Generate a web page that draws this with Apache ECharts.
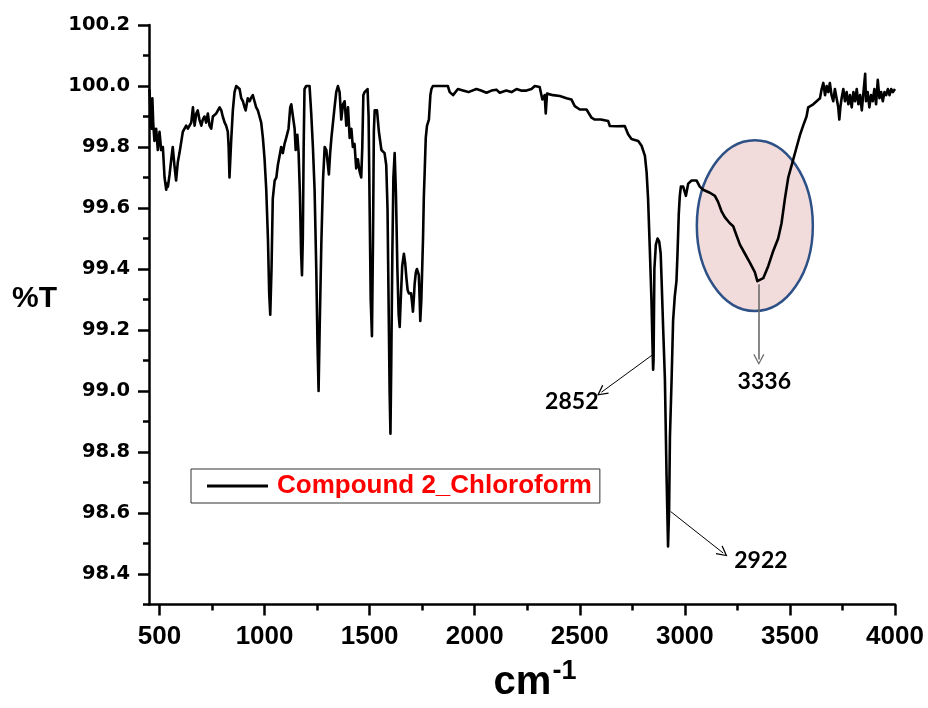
<!DOCTYPE html>
<html><head><meta charset="utf-8">
<script src="https://cdn.jsdelivr.net/npm/echarts@6/dist/echarts.min.js"></script>
<style>html,body{margin:0;padding:0;background:#fff}#c{width:928px;height:708px}</style>
</head><body><div id="c"></div>
<script>
// ---- data ----
const seriesName = 'Compound 2_Chloroform';
const wavenumber = [
452,458,462,466,470,476,484,492,500,508,516,524,532,536,540,548,556,563,571,579,587,595,611,627,635,643,651,659,667,675,682,690,699,706,714,722,730,738,746,754,762,770,778,786,794,801,810,817,825,829,833,837,841,849,857,865,873,881,889,897,905,910,915,920,929,935,944,952,960,968,976,984,992,1000,1008,1016,1022,1027,1033,1039,1048,1056,1063,1071,1079,1087,1095,1103,1114,1122,1127,1135,1143,1148,1156,1162,1168,1174,1178,1182,1186,1190,1198,1206,1214,1222,1230,1238,1246,1252,1257,1262,1270,1278,1286,1294,1300,1306,1312,1318,1333,1341,1349,1357,1365,1373,1381,1389,1397,1405,1413,1420,1428,1436,1444,1452,1460,1465,1470,1476,1482,1490,1495,1500,1505,1511,1516,1520,1524,1535,1544,1556,1571,1579,1585,1590,1595,1599,1603,1608,1613,1619,1625,1632,1638,1643,1648,1655,1663,1669,1675,1681,1687,1697,1702,1706,1710,1714,1720,1725,1730,1734,1738,1741,1746,1750,1754,1758,1762,1767,1773,1782,1789,1794,1801,1826,1850,1872,1881,1897,1920,1944,1970,2008,2030,2056,2080,2103,2119,2150,2175,2199,2220,2246,2270,2286,2309,2322,2333,2338,2344,2349,2373,2405,2437,2460,2476,2500,2532,2556,2571,2600,2635,2643,2675,2714,2730,2746,2778,2794,2810,2818,2825,2833,2841,2846,2849,2851,2855,2862,2870,2878,2885,2889,2897,2905,2913,2920,2925,2929,2937,2944,2952,2960,2965,2971,2976,2981,2992,3005,3016,3032,3056,3071,3087,3119,3143,3158,3174,3190,3214,3230,3246,3262,3286,3310,3333,3345,3354,3373,3397,3421,3444,3460,3476,3492,3508,3532,3548,3563,3579,3587,3611,3643,3651,3659,3667,3675,3683,3690,3698,3706,3714,3722,3730,3735,3740,3746,3754,3762,3770,3778,3786,3794,3802,3810,3818,3826,3834,3842,3850,3858,3862,3870,3878,3886,3894,3902,3910,3918,3926,3934,3942,3950,3958,3966,3974,3982,3990,4000
];
const transmittance = [
99.99,99.90,99.86,99.96,99.88,99.82,99.86,99.79,99.85,99.79,99.80,99.70,99.66,99.68,99.67,99.71,99.76,99.80,99.74,99.69,99.75,99.78,99.85,99.87,99.86,99.86,99.88,99.93,99.87,99.91,99.92,99.89,99.87,99.89,99.90,99.88,99.91,99.87,99.86,99.90,99.90,99.91,99.92,99.93,99.92,99.90,99.88,99.87,99.85,99.80,99.70,99.76,99.82,99.92,99.98,100.00,100.00,99.99,99.96,99.95,99.93,99.92,99.94,99.96,99.95,99.96,99.97,99.95,99.93,99.92,99.90,99.88,99.83,99.76,99.66,99.50,99.32,99.25,99.40,99.63,99.69,99.70,99.74,99.77,99.80,99.78,99.81,99.83,99.86,99.93,99.94,99.90,99.86,99.79,99.84,99.78,99.65,99.45,99.38,99.50,99.80,99.99,100.00,100.00,100.00,99.91,99.80,99.66,99.40,99.15,99.00,99.20,99.48,99.69,99.80,99.79,99.75,99.71,99.78,99.83,99.93,99.98,100.00,99.98,99.89,99.94,99.95,99.87,99.93,99.83,99.86,99.80,99.81,99.73,99.76,99.72,99.70,99.80,99.97,99.98,99.98,99.99,99.90,99.60,99.30,99.18,99.50,99.85,99.92,99.92,99.85,99.79,99.78,99.74,99.60,99.30,99.00,98.86,99.10,99.45,99.70,99.78,99.65,99.40,99.25,99.21,99.30,99.41,99.45,99.42,99.37,99.33,99.32,99.32,99.29,99.26,99.30,99.35,99.39,99.40,99.39,99.38,99.30,99.23,99.30,99.40,99.50,99.64,99.72,99.83,99.87,99.89,99.97,99.99,100.00,100.00,100.00,100.00,99.98,99.97,99.99,99.985,99.98,99.99,99.985,99.978,99.985,99.988,99.978,99.985,99.98,99.99,99.985,99.985,99.99,100.00,99.997,99.956,99.97,99.91,99.975,99.978,99.97,99.967,99.96,99.956,99.934,99.923,99.923,99.896,99.89,99.89,99.885,99.869,99.868,99.869,99.842,99.826,99.82,99.804,99.771,99.717,99.63,99.47,99.30,99.15,99.07,99.10,99.40,99.48,99.50,99.49,99.45,99.37,99.20,99.04,98.72,98.49,98.61,98.85,99.04,99.23,99.31,99.36,99.45,99.58,99.64,99.67,99.67,99.64,99.68,99.69,99.69,99.67,99.66,99.65,99.64,99.62,99.59,99.57,99.55,99.54,99.51,99.48,99.45,99.42,99.39,99.36,99.355,99.37,99.41,99.46,99.50,99.55,99.63,99.70,99.74,99.80,99.84,99.87,99.90,99.93,99.94,99.96,99.99,100.01,99.97,100.00,99.98,100.01,99.97,99.95,99.99,99.96,99.93,99.89,99.93,99.96,99.99,99.95,99.98,99.94,99.97,99.93,99.98,99.95,99.99,99.94,99.97,99.92,99.98,100.04,99.95,99.98,99.93,99.97,99.95,99.99,99.94,100.02,99.96,99.98,99.95,99.98,99.97,99.99,99.97,99.99,99.98,99.99
];
const xMajorTicks = [500,1000,1500,2000,2500,3000,3500,4000];
const xMinorTicks = [750,1250,1750,2250,2750,3250,3750];
const yMajorTicks = [98.4,98.6,98.8,99.0,99.2,99.4,99.6,99.8,100.0,100.2];
const yMinorTicks = [98.3,98.5,98.7,98.9,99.1,99.3,99.5,99.7,99.9,100.1];
// peak annotations: label, arrow start (on curve), arrow end, label anchor
const peakLabels = ['2852','2922','3336'];
const arrowFrom = [[2849,99.12],[2932,98.605],[3352,99.35]];
const arrowTo   = [[2603,98.996],[3182,98.469],[3352,99.103]];
const labelAt   = [[2462,98.965],[3362,98.445],[3378,99.03]];
// highlighted band: centre wavenumber, centre %T, half-width, half-height
const bandEllipse = [[3333,99.542,276,0.28]];

// ---- chart ----
const chart = echarts.init(document.getElementById('c'), null, {renderer:'canvas'});
const arrowHead = 'path://M5,0 L10,9.2 L9,9.8 L5,2.4 L1,9.8 L0,9.2 Z';
const axisCol = '#000';
const lineData = wavenumber.map((w,i)=>[w, transmittance[i]]);
const arrowStyles = [
  {color:'#000', width:1},
  {color:'#000', width:1},
  {color:'#6b6b6b', width:1.6}
];
const narrow = 'Liberation Sans Narrow, Liberation Sans, Arial, sans-serif';

chart.setOption({
  animation:false,
  backgroundColor:'#fff',
  grid:{left:149, right:33, top:25, bottom:99, containLabel:false},
  legend:{
    data:[seriesName], left:191, top:469,
    borderColor:'#333', borderWidth:1, padding:[4,8,4,16],
    icon:'rect', itemWidth:61, itemHeight:3,
    itemStyle:{color:'#000'},
    textStyle:{color:'#ff0000', fontWeight:'bold', fontSize:26, fontFamily:'Liberation Sans, Arial, sans-serif', padding:[0,0,0,4]}
  },
  xAxis:[{
    type:'value', min:450, max:4000,
    name:'{a|cm}{b|-1}', nameLocation:'middle', nameGap:54,
    nameTextStyle:{padding:[0,0,0,26], rich:{
      a:{fontSize:40, fontWeight:'bold', fontFamily:narrow, color:'#000'},
      b:{fontSize:27, fontWeight:'bold', fontFamily:narrow, color:'#000', padding:[0,0,22,1]}
    }},
    axisLine:{show:true, onZero:false, lineStyle:{color:axisCol, width:2.5}},
    axisTick:{show:true, customValues:xMajorTicks, length:11, lineStyle:{color:axisCol, width:2.5}},
    axisLabel:{customValues:xMajorTicks, formatter:v=>String(Math.round(v)), margin:19, color:'#000', fontWeight:'bold', fontSize:26, fontFamily:narrow},
    splitLine:{show:false}
  },{
    type:'value', min:450, max:4000, position:'bottom', gridIndex:0,
    axisLine:{show:false},
    axisTick:{show:true, customValues:xMinorTicks, length:6, lineStyle:{color:axisCol, width:2.5}},
    axisLabel:{show:false}, splitLine:{show:false}
  }],
  yAxis:[{
    type:'value', min:98.3, max:100.2,
    axisLine:{show:true, onZero:false, lineStyle:{color:axisCol, width:2.5}},
    axisTick:{show:true, customValues:yMajorTicks, length:11, lineStyle:{color:axisCol, width:2.5}},
    axisLabel:{customValues:yMajorTicks, formatter:v=>v.toFixed(1), margin:19, color:'#000', fontWeight:'bold', fontSize:19.5, fontFamily:'DejaVu Sans, sans-serif'},
    splitLine:{show:false}
  },{
    type:'value', min:98.3, max:100.2, position:'left', gridIndex:0,
    axisLine:{show:false},
    axisTick:{show:true, customValues:yMinorTicks, length:6, lineStyle:{color:axisCol, width:2.5}},
    axisLabel:{show:false}, splitLine:{show:false}
  }],
  graphic:[{
    type:'text', left:12, top:284, z:10,
    style:{text:'%T', fill:'#000', font:'bold 30px "Liberation Sans", Arial, sans-serif'}
  }],
  series:[{
    type:'custom', name:'band', z:1, silent:true, xAxisIndex:0, yAxisIndex:0,
    data:bandEllipse,
    renderItem:(params, api)=>{
      const c = api.coord([api.value(0), api.value(1)]);
      const s = api.size([api.value(2), api.value(3)]);
      return {type:'ellipse', shape:{cx:c[0], cy:c[1], rx:s[0], ry:s[1]},
        style:{fill:'#f2dcdb', stroke:'#2d5186', lineWidth:2.5}};
    }
  },{
    type:'line', name:seriesName, z:3, xAxisIndex:0, yAxisIndex:0,
    data:lineData, showSymbol:false, symbol:'none', smooth:false,
    lineStyle:{color:'#000', width:2.6, join:'round'},
    itemStyle:{color:'#000'},
    markLine:{
      silent:true, symbol:['none', arrowHead], symbolSize:[11,11],
      label:{show:false},
      data: arrowFrom.map((f,i)=>[
        {coord:f, lineStyle:{color:arrowStyles[i].color, width:arrowStyles[i].width, type:'solid'}, itemStyle:{color:arrowStyles[i].color}},
        {coord:arrowTo[i]}
      ])
    },
    markPoint:{
      silent:true, symbol:'circle', symbolSize:1,
      itemStyle:{color:'rgba(0,0,0,0)'},
      label:{show:true, position:'inside', formatter:'{b}', color:'#000', fontWeight:'bold', fontSize:23, fontFamily:'Lato, sans-serif'},
      data: peakLabels.map((t,i)=>({name:t, coord:labelAt[i]}))
    }
  }]
});
</script>
</body></html>
